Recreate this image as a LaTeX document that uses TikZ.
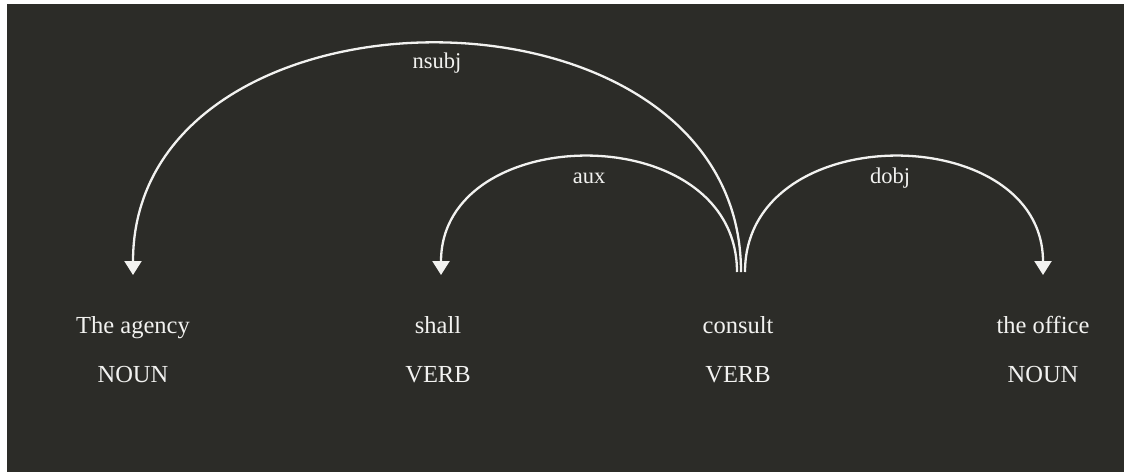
\documentclass[tikz,border=0pt]{standalone}
\usepackage{fontspec}
\setmainfont{Liberation Serif}
\usetikzlibrary{arrows.meta}
\definecolor{bg}{RGB}{44,44,40}
\definecolor{ink}{RGB}{242,242,240}
\begin{document}
\begin{tikzpicture}[x=1pt,y=-1pt,
  word/.style={text=ink,font=\fontsize{24.5}{28}\selectfont,anchor=base,inner sep=0pt},
  postag/.style={word},
  deplabel/.style={text=ink,font=\fontsize{22.5}{26}\selectfont,anchor=base,inner sep=0pt},
  deparc/.style={draw=ink,line width=2.3pt,-{Triangle[width=17pt,length=14pt]}}]
% canvas with thin light frame on the left and top
\fill[white] (0,0) rectangle (1124,472);
\fill[bg] (7,4) rectangle (1124,472);
\useasboundingbox (0,0) rectangle (1124,472);

% tokens and their part-of-speech tags
\node[word] (w1) at (133,333) {The agency};
\node[word] (w2) at (438,333) {shall};
\node[word] (w3) at (738,333) {consult};
\node[word] (w4) at (1043,333) {the office};
\node[postag] (t1) at (133,382) {NOUN};
\node[postag] (t2) at (438,382) {VERB};
\node[postag] (t3) at (738,382) {VERB};
\node[postag] (t4) at (1043,382) {NOUN};

% arc end points above the tokens
\coordinate (aux-from) at (737,272);
\coordinate (nsubj-from) at (741,272);
\coordinate (dobj-from) at (745,272);
\coordinate (w1-in) at (133,275);
\coordinate (w2-in) at (441,275);
\coordinate (w4-in) at (1043,275);

% dependency arcs
\draw[deparc] (nsubj-from) .. controls +(0,-306) and +(0,-306) .. (w1-in);
\draw[deparc] (aux-from) .. controls +(0,-155) and +(0,-155) .. (w2-in);
\draw[deparc] (dobj-from) .. controls +(0,-155) and +(0,-155) .. (w4-in);

% arc labels
\node[deplabel] (l1) at (437,68) {nsubj};
\node[deplabel] (l2) at (589,183) {aux};
\node[deplabel] (l3) at (890,183) {dobj};
\end{tikzpicture}
\end{document}
